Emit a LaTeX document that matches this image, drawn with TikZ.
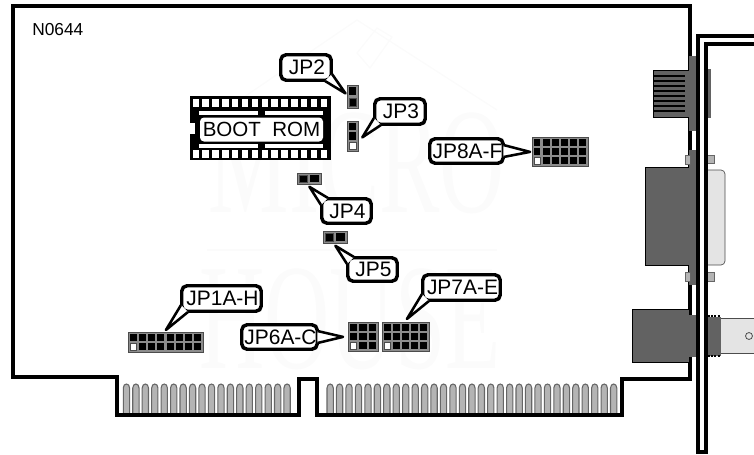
\documentclass[tikz,border=0pt]{standalone}
\usepackage{fontspec}
\setmainfont{Liberation Sans}
\newfontfamily\markfont{Liberation Serif}
\usetikzlibrary{calc}
\definecolor{conndark}{HTML}{626262}
\definecolor{connlight}{HTML}{E4E4E4}
\definecolor{tabgrey}{HTML}{B4B4B4}
\definecolor{pale}{HTML}{FBFBFB}
\tikzset{calloutbox/.style={rectangle, draw, fill=white, line width=2.6pt, rounded corners=4pt, inner sep=0pt, font=\fontsize{15.7}{15.7}\selectfont}}
\tikzset{pointer/.style={draw, fill=white, line width=1.9pt, line join=round}}
\tikzset{headerbox/.style={rectangle, draw=black!70, fill=black!45, line width=.6pt, inner sep=0pt, anchor=north west}}
\tikzset{edge/.style={line width=2.8pt, line join=miter}}
\tikzset{conn/.style={fill=conndark, draw=black, line width=.6pt}}
\tikzset{tab/.style={fill=tabgrey, draw=black!60, line width=.5pt}}
\tikzset{finger/.style={fill=tabgrey, draw=black!60, line width=.8pt}}
\tikzset{watermark/.style={text=pale, font=\markfont\fontsize{113}{113}\selectfont, xscale=.6, transform shape, inner sep=0pt}}
\newcommand{\header}[8]{
  \node[headerbox, minimum width={#4*.75pt}, minimum height={#5*.75pt}] (#1) at (#2,#3) {};
  \pgfmathsetmacro{\px}{(#4-1)/#6}
  \pgfmathsetmacro{\py}{(#5-1)/#7}
  \foreach \c in {1,...,#6} \foreach \r in {1,...,#7} {
    \fill (#2+1.5+\c*\px-\px, #3+1.5+\r*\py-\py) rectangle ++(\px-2.2,\py-2.2);
  }
  \filldraw[fill=#8, draw=black!70, line width=.5pt] (#2+1.9, #3+1.9+#7*\py-\py) rectangle ++(\px-3,\py-3);
}
\newcommand{\callout}[6]{
  \node[calloutbox, minimum width={(#4-#2-3.5)*.75pt}, minimum height={(#5-#3-3.5)*.75pt}] (#1) at ({(#2+#4)/2},{(#3+#5)/2}) {\hspace{1.5pt}#6};
}
\begin{document}
\begin{tikzpicture}[x=.75pt, y=-.75pt]
\useasboundingbox (0,0) rectangle (754,454);

% faint mark behind the card
\node[watermark] (mark1) at (357,163) {MICRO};
\node[watermark] (mark2) at (350,319) {HOUSE};
\draw[pale, line width=1pt] (207,250) -- (497,250);
\draw[pale, line width=1pt] (225,110) -- (357,20) -- (497,110);
\draw[pale, line width=1pt] (357,53) -- (377,28) -- (392,37) -- (370,68) -- cycle;

% gold fingers
\foreach \i in {0,...,17} {
  \draw[finger] (123.3+\i*9.45,414) -- (123.3+\i*9.45,388) .. controls (123.3+\i*9.45,382.7) and (129.6+\i*9.45,382.7) .. (129.6+\i*9.45,388) -- (129.6+\i*9.45,414) -- cycle;
}
\foreach \i in {0,...,30} {
  \draw[finger] (327+\i*9.45,414) -- (327+\i*9.45,388) .. controls (327+\i*9.45,382.7) and (333.3+\i*9.45,382.7) .. (333.3+\i*9.45,388) -- (333.3+\i*9.45,414) -- cycle;
}

% card outline and bracket
\draw[edge] (690,379) -- (622,379) -- (622,415) -- (317,415) -- (317,379) -- (299,379) -- (299,415) -- (117,415) -- (117,377) -- (13,377) -- (13,6) -- (690,6) -- cycle;
\draw[edge] (754,36) -- (698,36) -- (698,452) -- (706,452) -- (706,44) -- (754,44);

% network jack
\draw[conn] (653,70) rectangle (689,117);
\draw[conn, draw=conndark] (689.5,56) rectangle (696.5,130);
\draw[conn, draw=conndark] (707.5,69) rectangle (710,117);
\foreach \y in {76,81,...,111} {
  \draw[line width=1.3pt] (654,\y) -- (685,\y);
}

% sub-d connector
\draw[fill=connlight, draw=black!70, line width=.5pt, rounded corners=3pt] (707.5,170) -- (725,170) -- (725,265) -- (707.5,265);
\draw[conn] (645,167) rectangle (689,265);
\draw[conn, draw=conndark] (689.5,150) rectangle (696.5,284);
\draw[tab] (685,155) rectangle (690,164);
\draw[tab] (685,272) rectangle (690,281);
\draw[tab] (707.5,155) rectangle (714,163);
\draw[tab] (707.5,272) rectangle (714,281);

% coax connector
\draw[fill=connlight, draw=black!70, line width=.5pt] (754,318) -- (720,318) -- (720,353) -- (754,353);
\draw[conn] (632,309) rectangle (689,362);
\draw[conn, draw=conndark] (689.5,315) rectangle (696.5,356);
\draw[conn, draw=conndark] (707.5,317) rectangle (720,355);
\draw[line width=1.4pt, dash pattern=on 1.5pt off 1pt] (707.5,316) -- (720,316);
\draw[line width=1.4pt, dash pattern=on 1.5pt off 1pt] (707.5,356) -- (720,356);
\draw[black!70, line width=.6pt] (749,336) circle [radius=2.6pt];

% redraw bracket lines over the flanges
\draw[edge] (698,36) -- (698,452);
\draw[edge] (706,44) -- (706,452);

% boot rom socket
\node[rectangle, fill=black, inner sep=0pt, minimum width={141*.75pt}, minimum height={64*.75pt}] (rom) at (260.5,128) {};
\foreach \i in {0,...,13} {
  \fill[white] (192.6+\i*9.85,98.5) rectangle ++(6.4,8);
  \fill[white] (192.6+\i*9.85,150) rectangle ++(6.4,8);
}
\fill[white] (199,110.7) rectangle (258,114.6);
\fill[white] (265,110.7) rectangle (323,114.6);
\fill[white] (199,144) rectangle (258,147.8);
\fill[white] (265,144) rectangle (323,147.8);
\fill[white] (190,122.7) rectangle (195,134);
\node[rectangle, fill=white, rounded corners=3pt, inner sep=0pt, minimum width={123*.75pt}, minimum height={24*.75pt}, font=\fontsize{15.4}{15.4}\selectfont] (romlabel) at (261.5,129.5) {BOOT\ \ ROM};

% jumper blocks
\header{hdr2}{347}{85}{11}{23}{1}{2}{black}
\header{hdr3}{347}{121}{11}{30}{1}{3}{white}
\header{hdr4}{297}{173}{24}{11}{2}{1}{black}
\header{hdr5}{323}{231}{24}{12}{2}{1}{black}
\header{hdr8}{532}{137}{56}{29}{6}{3}{white}
\header{hdr1}{128}{332}{75}{20}{8}{2}{white}
\header{hdr6}{348}{322}{30}{29}{3}{3}{white}
\header{hdr7}{382}{322}{47}{29}{5}{3}{white}

\node[font=\fontsize{13}{13}\selectfont, anchor=west, inner sep=0pt] (board) at (32,30) {N0644};

% callouts
\callout{JP2}{279}{53}{333}{82}{JP2}
\callout{JP3}{373}{97}{427}{126}{JP3}
\callout{JP4}{320}{197}{373}{225}{JP4}
\callout{JP5}{346}{256}{399}{283}{JP5}
\callout{JP8}{428}{137}{505}{165}{JP8A-F}
\callout{JP1}{180}{284}{263}{313}{JP1A-H}
\callout{JP6}{240}{323}{319}{351}{JP6A-C}
\callout{JP7}{421}{273}{502}{302}{JP7A-E}

\draw[pointer] ($(JP2.south east)+(-8,-1)$) -- ($(hdr2.west)+(-1.5,-3.5)$) -- ($(JP2.south east)+(-1,-8)$);
\draw[pointer] ($(JP3.south west)+(1,-8)$) -- ($(hdr3.east)+(3.5,1)$) -- ($(JP3.south west)+(8,-1)$);
\draw[pointer] ($(JP8.east)+(-1.5,-6)$) -- ($(hdr8.west)+(-2,0)$) -- ($(JP8.east)+(-1.5,6)$);
\draw[pointer] ($(JP4.north west)+(1,8)$) -- ($(hdr4.south)+(0,2)$) -- ($(JP4.north west)+(8,1)$);
\draw[pointer] ($(JP5.north west)+(1,8)$) -- ($(hdr5.south)+(0,2)$) -- ($(JP5.north west)+(8,1)$);
\draw[pointer] ($(JP7.south west)+(1,-8)$) -- ($(hdr7.north)+(1,-3)$) -- ($(JP7.south west)+(8,-1)$);
\draw[pointer] ($(JP6.east)+(-1.5,-6)$) -- ($(hdr6.west)+(-5,0)$) -- ($(JP6.east)+(-1.5,6)$);
\draw[pointer] ($(JP1.south west)+(1,-8)$) -- ($(hdr1.north)+(0,-2)$) -- ($(JP1.south west)+(8,-1)$);

\end{tikzpicture}
\end{document}
